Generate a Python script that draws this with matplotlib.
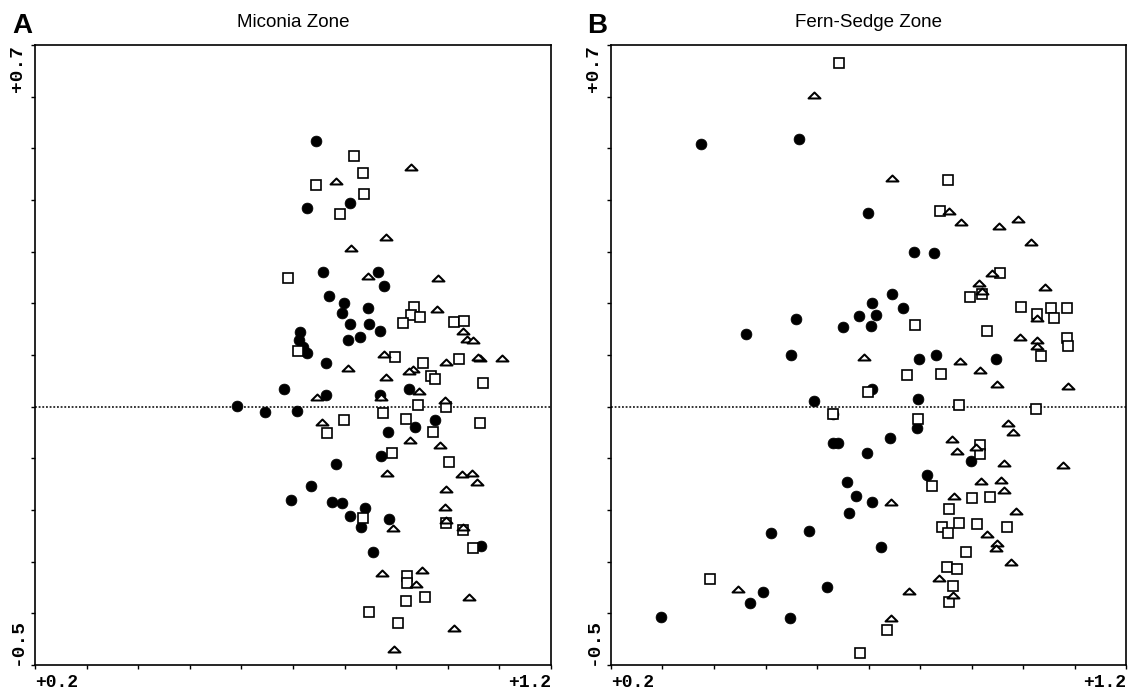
import matplotlib
matplotlib.use("Agg")
import matplotlib.pyplot as plt
from matplotlib.path import Path

# ---------------- data ----------------
panel_letters = ["A", "B"]
panel_titles = ["Miconia Zone", "Fern-Sedge Zone"]
x_range = [0.2, 1.2]
y_range = [-0.5, 0.7]
x_tick_labels = ["+0.2", "+1.2"]
y_tick_labels = ["-0.5", "+0.7"]

# Panel A (Miconia Zone)
a_circle_x = [0.745, 0.727, 0.810, 0.758, 0.865, 0.876, 0.770, 0.799, 0.845, 0.795,
              0.810, 0.847, 0.869, 0.807, 0.830, 0.714, 0.712, 0.719, 0.727, 0.764,
              0.683, 0.764, 0.869, 0.925, 0.591, 0.646, 0.708, 0.936, 0.975, 0.884,
              0.871, 0.783, 0.735, 0.696, 0.776, 0.795, 0.840, 0.810, 0.832, 0.886,
              1.064, 0.855]
a_circle_y = [0.514, 0.385, 0.394, 0.261, 0.261, 0.234, 0.214, 0.201, 0.191, 0.181,
              0.160, 0.160, 0.146, 0.129, 0.135, 0.145, 0.129, 0.116, 0.104, 0.085,
              0.034, 0.023, 0.023, 0.034, 0.001, -0.010, -0.008, -0.039, -0.026, -0.049,
              -0.095, -0.111, -0.154, -0.181, -0.185, -0.187, -0.196, -0.212, -0.233, -0.217,
              -0.270, -0.281]

a_square_x = [0.818, 0.836, 0.745, 0.838, 0.791, 0.690, 0.934, 0.929, 0.946, 0.913,
              1.012, 1.031, 0.710, 0.898, 0.952, 1.022, 0.967, 0.975, 1.068, 0.942,
              0.997, 0.799, 0.874, 0.919, 0.971, 0.766, 1.062, 0.892, 1.002, 0.836,
              0.997, 1.029, 1.049, 0.921, 0.921, 0.919, 0.956, 0.847, 0.903]
a_square_y = [0.485, 0.452, 0.429, 0.412, 0.373, 0.249, 0.193, 0.177, 0.174, 0.162,
              0.164, 0.166, 0.108, 0.096, 0.085, 0.092, 0.059, 0.054, 0.046, 0.003,
              -0.001, -0.026, -0.012, -0.024, -0.049, -0.051, -0.032, -0.090, -0.107, -0.216,
              -0.225, -0.239, -0.274, -0.328, -0.341, -0.376, -0.368, -0.397, -0.419]

a_tri_x = [0.929, 0.783, 0.880, 0.812, 0.845, 0.981, 0.979, 1.029, 1.037, 1.049,
           0.876, 0.997, 1.062, 1.058, 1.105, 0.807, 0.933, 0.925, 0.880, 0.747,
           0.871, 0.944, 0.995, 0.756, 0.927, 0.985, 0.882, 1.028, 1.047, 1.057,
           0.997, 0.995, 0.894, 0.997, 1.029, 0.872, 0.950, 0.938, 1.041, 1.012,
           0.896]
a_tri_y = [0.464, 0.437, 0.328, 0.307, 0.253, 0.249, 0.189, 0.146, 0.131, 0.129,
           0.102, 0.086, 0.094, 0.097, 0.094, 0.075, 0.073, 0.069, 0.057, 0.019,
           0.019, 0.030, 0.013, -0.030, -0.065, -0.074, -0.128, -0.130, -0.128, -0.146,
           -0.159, -0.194, -0.235, -0.219, -0.233, -0.322, -0.316, -0.343, -0.368, -0.428,
           -0.469]

# Panel B (Fern-Sedge Zone)
b_circle_x = [0.375, 0.565, 0.699, 0.788, 0.827, 0.746, 0.707, 0.767, 0.682, 0.715,
              0.559, 0.650, 0.705, 0.462, 0.550, 0.798, 0.831, 0.948, 0.707, 0.594,
              0.796, 0.631, 0.794, 0.631, 0.641, 0.742, 0.697, 0.899, 0.814, 0.658,
              0.676, 0.707, 0.662, 0.511, 0.584, 0.724, 0.619, 0.495, 0.470, 0.297,
              0.548]
b_circle_y = [0.508, 0.518, 0.375, 0.299, 0.297, 0.218, 0.201, 0.191, 0.175, 0.177,
              0.170, 0.154, 0.156, 0.141, 0.100, 0.092, 0.100, 0.092, 0.034, 0.011,
              0.015, -0.014, -0.041, -0.070, -0.070, -0.061, -0.090, -0.105, -0.132, -0.146,
              -0.173, -0.185, -0.206, -0.245, -0.241, -0.272, -0.349, -0.359, -0.380, -0.407,
              -0.409]

b_square_x = [0.643, 0.854, 0.839, 0.955, 0.897, 0.920, 0.996, 1.027, 1.054, 1.085,
              1.060, 0.790, 0.930, 1.085, 1.087, 1.035, 0.775, 0.841, 0.699, 0.876,
              1.025, 0.631, 0.796, 0.917, 0.917, 0.823, 0.901, 0.936, 0.856, 0.843,
              0.876, 0.854, 0.911, 0.969, 0.889, 0.852, 0.872, 0.864, 0.856, 0.392,
              0.736, 0.683]
b_square_y = [0.665, 0.439, 0.379, 0.259, 0.212, 0.218, 0.193, 0.179, 0.191, 0.191,
              0.172, 0.158, 0.146, 0.133, 0.117, 0.098, 0.061, 0.063, 0.028, 0.003,
              -0.005, -0.014, -0.024, -0.074, -0.092, -0.154, -0.177, -0.175, -0.198, -0.233,
              -0.225, -0.245, -0.227, -0.233, -0.281, -0.310, -0.314, -0.347, -0.378, -0.334,
              -0.432, -0.477]

b_tri_x = [0.594, 0.746, 0.856, 0.880, 0.953, 0.990, 1.016, 0.940, 0.915, 1.043,
           0.920, 1.027, 0.994, 1.027, 1.027, 0.691, 0.878, 0.917, 0.950, 1.087,
           0.971, 0.981, 0.862, 0.872, 0.909, 0.963, 1.078, 0.918, 0.957, 0.963,
           0.744, 0.866, 0.986, 0.930, 0.950, 0.948, 0.977, 0.837, 0.864, 0.779,
           0.447, 0.744]
b_tri_y = [0.603, 0.443, 0.379, 0.357, 0.350, 0.363, 0.319, 0.259, 0.239, 0.232,
           0.224, 0.172, 0.135, 0.129, 0.117, 0.096, 0.088, 0.071, 0.044, 0.040,
           -0.032, -0.049, -0.063, -0.086, -0.078, -0.109, -0.113, -0.144, -0.142, -0.161,
           -0.185, -0.173, -0.202, -0.246, -0.264, -0.274, -0.301, -0.332, -0.365, -0.357,
           -0.353, -0.409]

panels = [
    (a_circle_x, a_circle_y, a_square_x, a_square_y, a_tri_x, a_tri_y),
    (b_circle_x, b_circle_y, b_square_x, b_square_y, b_tri_x, b_tri_y),
]

# ---------------- figure ----------------
W, H = 1129, 689
fig = plt.figure(figsize=(W / 100, H / 100), dpi=100)

axes_px = [(35, 551), (611, 1126)]
top_px, bot_px = 45, 665

flat_tri = Path([(-1, -0.5), (1, -0.5), (0, 0.5), (-1, -0.5)],
                [Path.MOVETO, Path.LINETO, Path.LINETO, Path.CLOSEPOLY])

mono = "Liberation Mono"
letter_x_px = [12, 587]

for i, (cx, cy, sx, sy, tx, ty) in enumerate(panels):
    l, r = axes_px[i]
    ax = fig.add_axes([l / W, 1 - bot_px / H, (r - l) / W, (bot_px - top_px) / H])
    ax.set_xlim(*x_range)
    ax.set_ylim(*y_range)

    ax.axhline(0, color="black", lw=1.1, ls=(0, (1.2, 1.2)), zorder=1)

    ax.plot(cx, cy, ls="none", marker="o", ms=7.8, mfc="black", mec="black",
            mew=0.5, zorder=3)
    ax.plot(sx, sy, ls="none", marker="s", ms=7.3, mfc="white", mec="black",
            mew=1.2, zorder=4)
    ax.plot(tx, ty, ls="none", marker=flat_tri, ms=8.6, mfc="white", mec="black",
            mew=1.45, zorder=5)

    for sp in ax.spines.values():
        sp.set_color("black")
        sp.set_linewidth(1.2)

    xt = [round(x_range[0] + 0.1 * k, 1) for k in range(11)]
    yt = [round(y_range[0] + 0.1 * k, 1) for k in range(13)]
    ax.set_xticks(xt)
    ax.set_yticks(yt)
    ax.set_xticklabels([x_tick_labels[0]] + [""] * 9 + [x_tick_labels[1]])
    ax.set_yticklabels([y_tick_labels[0]] + [""] * 11 + [y_tick_labels[1]])
    ax.tick_params(direction="out", length=3, width=1, pad=3.5)
    xl = ax.get_xticklabels()
    for lab in xl:
        lab.set_fontfamily(mono)
        lab.set_fontweight("bold")
        lab.set_fontsize(13)
    xl[0].set_ha("left")
    xl[-1].set_ha("right")
    yl = ax.get_yticklabels()
    for lab in yl:
        lab.set_fontfamily(mono)
        lab.set_fontweight("bold")
        lab.set_fontsize(14)
        lab.set_rotation(90)
    yl[0].set_va("bottom")
    yl[-1].set_va("top")

    ax.set_title(panel_titles[i], fontsize=13.5, family="Liberation Sans", pad=13)
    fig.text(letter_x_px[i] / W, 1 - 33 / H, panel_letters[i], fontsize=20,
             fontweight="bold", family="Liberation Sans", ha="left", va="baseline")

fig.savefig("out.png", dpi=100)
